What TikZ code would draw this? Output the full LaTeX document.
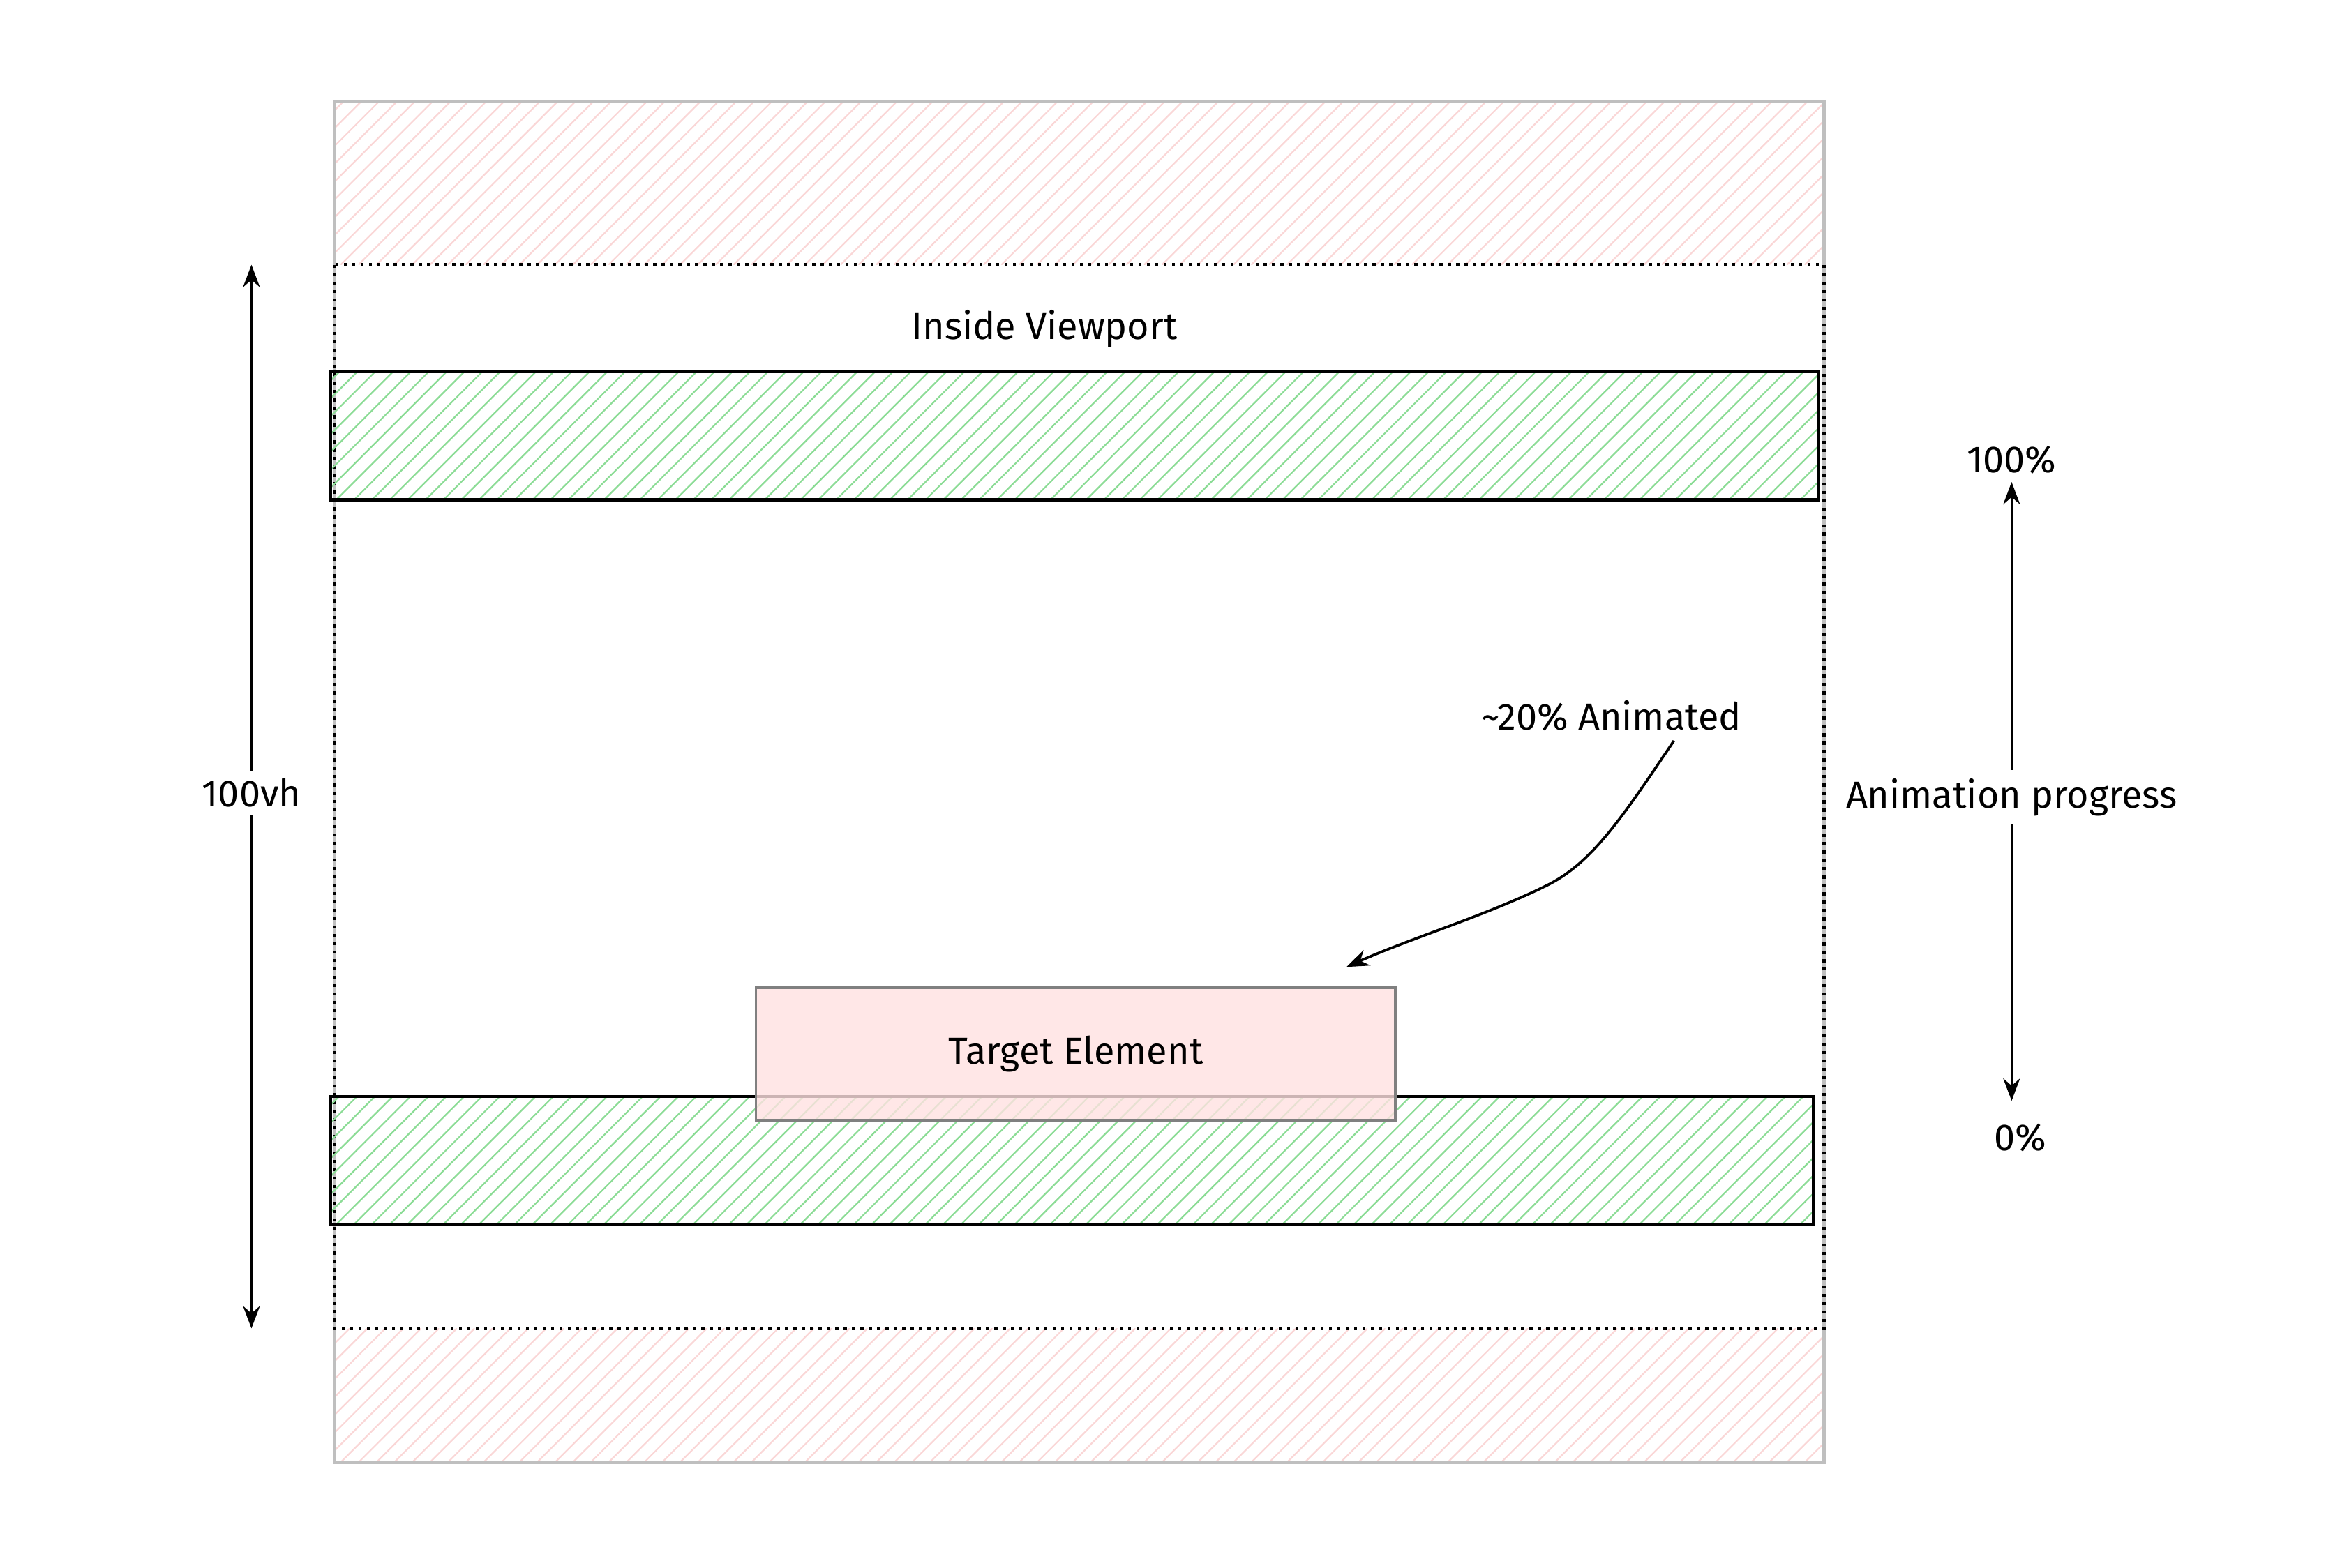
\documentclass[tikz,border=0pt]{standalone}
\usepackage{fontspec}
\setmainfont{Fira Sans}
\usetikzlibrary{arrows.meta, positioning}
\definecolor{hatchred}{RGB}{250,215,215}
\definecolor{hatchgreen}{RGB}{140,220,150}
\definecolor{targetfill}{RGB}{255,225,225}
\tikzstyle{bar} = [draw=black, line width=1.2pt]
\tikzstyle{label} = [font=\Large, fill=white, inner sep=3pt]
\tikzstyle{arrow} = [line width=1pt, -{Stealth[length=3mm]}]
% hatch a rectangle (x1,y1,x2,y2,colour)
\newcommand{\hatchbox}[5]{%
  \begin{scope}
    \clip (#1,#2) rectangle (#3,#4);
    \foreach \s in {-200,-188,...,1300}
      \draw[#5, line width=0.6pt] (#1+\s,#4) -- (#1+\s+#4-#2,#2);
  \end{scope}}

\begin{document}
\begin{tikzpicture}[x=0.02cm, y=-0.02cm]
\useasboundingbox (0,0) rectangle (1568,1054);
% page bands outside the viewport
\hatchbox{225}{68}{1226}{178}{hatchred}
\hatchbox{225}{893}{1226}{983}{hatchred}
\draw[gray!50, line width=1.2pt] (225,68) rectangle (1226,983);
\draw[dotted, line width=1.2pt] (225,178) rectangle (1226,893);

% trigger bars
\hatchbox{222}{250}{1222}{336}{hatchgreen}
\hatchbox{222}{737}{1219}{823}{hatchgreen}
\draw[bar] (222,250) rectangle (1222,336);
\draw[bar] (222,737) rectangle (1219,823);
\node (inside) [label] at (702,221) {Inside Viewport};

% target element
\node (target) [draw=gray, line width=1pt, fill=targetfill, fill opacity=0.8, text opacity=1,
  minimum width=8.6cm, minimum height=1.78cm, font=\Large] at (723,708.5) {Target Element};

% viewport height
\coordinate (vtop) at (169,178);
\coordinate (vbot) at (169,893);
\draw[line width=1pt, {Stealth[length=3mm]}-{Stealth[length=3mm]}] (vtop) -- (vbot);
\node (vh) [label] at (169,533) {100vh};

% progress
\node (full) [label] at (1352,309) {100\%};
\node (progress) [label] at (1352,536) {Animation progress};
\node (zero) [label] at (1358,765) {0\%};
\coordinate (zerotop) at (1352,740);
\draw[arrow] (progress.north -| full) -- (full.south);
\draw[arrow] (progress.south -| full) -- (zerotop);

% annotation
\node (anim) [label] at (1083,481) {\textasciitilde 20\% Animated};
\coordinate (tip) at (905,650);
\draw[arrow] (1125,498) .. controls (1090,550) and (1070,580) .. (1040,595)
  .. controls (1000,615) and (950,630) .. (tip);
\end{tikzpicture}
\end{document}
